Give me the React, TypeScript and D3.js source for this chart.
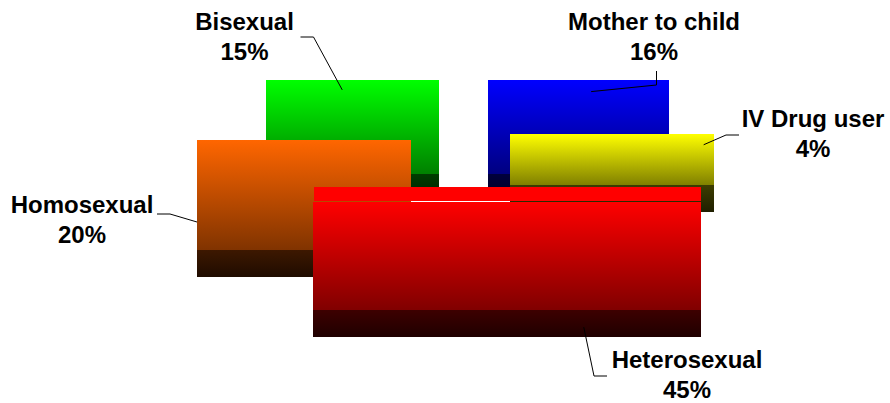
import React, { useRef, useEffect } from "react";
import * as d3 from "d3";

// slices clockwise from 12 o'clock
const categories = ["Mother to child", "IV Drug user", "Heterosexual", "Homosexual", "Bisexual"];
const shares = [16, 4, 45, 20, 15];
const fills = ["#0000ff", "#ffff00", "#ff0000", "#ff6600", "#00ff00"];

// label text centre + first baseline, and where the leader meets the label
const labelAt = [[654, 30], [813, 127], [687, 368], [82, 213], [244.5, 30]];
const dockAt: [number, number, string][] = [
  [656.5, 71, "v"],
  [739, 135, "h"],
  [607, 376, "h"],
  [157, 214, "h"],
  [300.5, 37, "h"],
];

function App() {
  const svgRef = useRef<SVGSVGElement>(null);

  useEffect(() => {
    document.body.style.margin = "0";
    const width = 890,
      height = 403;
    const cx = 463,
      cy = 195,
      rx = 214,
      ry = 94,
      depth = 27,
      pullX = 52,
      pullY = 24;

    const svg = d3.select(svgRef.current);
    svg.selectAll("*").remove();
    svg.attr("width", width).attr("height", height);

    const arcs = d3
      .pie<number>()
      .sort(null)
      .startAngle(0)
      .endAngle(2 * Math.PI)(shares);

    const defs = svg.append("defs");
    const maxShare = d3.max(shares);

    const slices = arcs.map((a, i) => {
      const mid = (a.startAngle + a.endAngle) / 2;
      const ox = cx + pullX * Math.sin(mid);
      const oy = cy - pullY * Math.cos(mid);
      const pts: [number, number][] = [
        [0, 0],
        [Math.sin(a.startAngle), -Math.cos(a.startAngle)],
        [Math.sin(a.endAngle), -Math.cos(a.endAngle)],
      ];
      for (let k = 0; k <= 4; k++) {
        const ang = (k * Math.PI) / 2;
        if (ang > a.startAngle && ang < a.endAngle) pts.push([Math.sin(ang), -Math.cos(ang)]);
      }
      const xs = pts.map((p) => ox + p[0] * rx);
      const ys = pts.map((p) => oy + p[1] * ry);
      const lower = Math.cos(mid) < 1e-6;
      return {
        i,
        mid,
        ox,
        oy,
        x0: d3.min(xs)!,
        x1: d3.max(xs)!,
        y0: d3.min(ys)!,
        y1: d3.max(ys)!,
        edge: [ox + rx * Math.sin(mid), oy - ry * Math.cos(mid) + (lower ? depth : 0)],
      };
    });

    slices.forEach((s) => {
      const c = fills[s.i];
      const g = defs
        .append("linearGradient")
        .attr("id", "face" + s.i)
        .attr("x1", 0)
        .attr("y1", 0)
        .attr("x2", 0)
        .attr("y2", 1);
      g.append("stop").attr("offset", 0).attr("stop-color", c);
      g.append("stop").attr("offset", 1).attr("stop-color", d3.interpolateRgb(c, "#000")(0.5));
      const b = defs
        .append("linearGradient")
        .attr("id", "band" + s.i)
        .attr("x1", 0)
        .attr("y1", 0)
        .attr("x2", 0)
        .attr("y2", 1);
      b.append("stop").attr("offset", 0).attr("stop-color", d3.interpolateRgb(c, "#000")(0.76));
      b.append("stop").attr("offset", 1).attr("stop-color", d3.interpolateRgb(c, "#000")(0.88));
    });

    const body = svg.append("g").attr("shape-rendering", "crispEdges");
    slices
      .slice()
      .sort((a, b) => a.oy - b.oy)
      .forEach((s) => {
        const x0 = Math.round(s.x0),
          x1 = Math.round(s.x1),
          y0 = Math.round(s.y0),
          y1 = Math.round(s.y1);
        let faceTop = y0;
        if (shares[s.i] === maxShare) {
          const strip = Math.round((s.oy - s.y0) / 2) - 1;
          body
            .append("rect")
            .attr("x", x0 + 1)
            .attr("y", y0)
            .attr("width", x1 - x0 - 1)
            .attr("height", strip)
            .attr("fill", fills[s.i]);
          faceTop = y0 + strip + 1;
        }
        body
          .append("rect")
          .attr("x", x0)
          .attr("y", faceTop)
          .attr("width", x1 - x0)
          .attr("height", y1 - faceTop)
          .attr("fill", `url(#face${s.i})`);
        body
          .append("rect")
          .attr("x", x0)
          .attr("y", y1)
          .attr("width", x1 - x0)
          .attr("height", depth)
          .attr("fill", `url(#band${s.i})`);
      });

    // leader lines
    const line = d3.line();
    slices.forEach((s) => {
      const [dx, dy, dir] = dockAt[s.i];
      const [ex, ey] = s.edge;
      const elbow: [number, number] =
        dir === "h" ? [dx + 13 * Math.sign(ex - dx), dy] : [dx, dy + 14 * Math.sign(ey - dy)];
      svg
        .append("path")
        .attr("d", line([[dx, dy], elbow, [ex, ey]]))
        .attr("fill", "none")
        .attr("stroke", "#000")
        .attr("stroke-width", 1);
    });

    // labels
    const labels = svg
      .append("g")
      .attr("font-family", "'Liberation Sans', Arial, sans-serif")
      .attr("font-weight", "bold")
      .attr("font-size", 24)
      .attr("text-anchor", "middle")
      .attr("fill", "#000");
    categories.forEach((name, i) => {
      const [tx, ty] = labelAt[i];
      const t = labels.append("text").attr("x", tx).attr("y", ty);
      t.append("tspan").attr("x", tx).text(name);
      t.append("tspan").attr("x", tx).attr("dy", 30).text(shares[i] + "%");
    });
  }, []);

  return <svg ref={svgRef} style={{ display: "block" }}></svg>;
}

export default App;
